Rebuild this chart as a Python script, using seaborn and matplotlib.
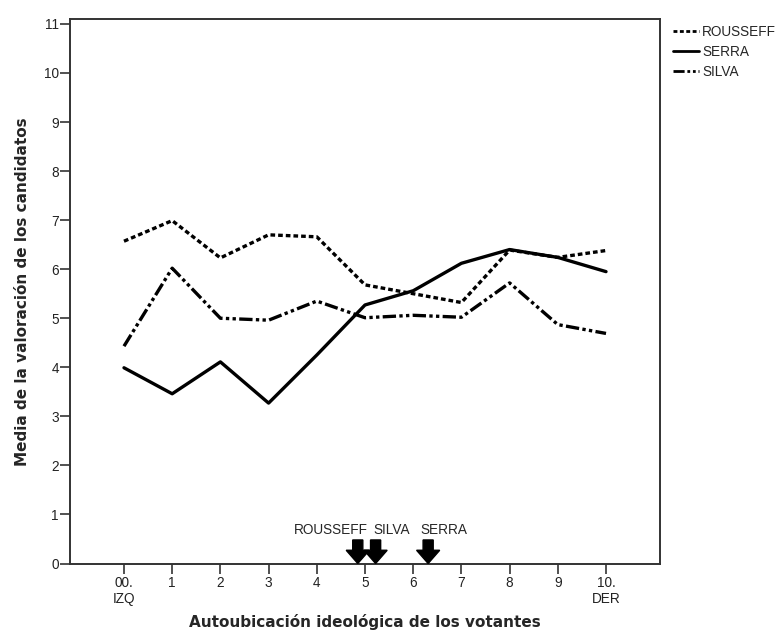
import numpy as np
import pandas as pd
import matplotlib
matplotlib.use("Agg")
import matplotlib.pyplot as plt
import seaborn as sns

# autoubicación 0..10 y media de valoración por candidato
escala = [0, 1, 2, 3, 4, 5, 6, 7, 8, 9, 10]
etiquetas_x = ["00.\nIZQ", "1", "2", "3", "4", "5", "6", "7", "8", "9", "10.\nDER"]
rousseff = [6.57, 6.99, 6.23, 6.70, 6.66, 5.68, 5.50, 5.32, 6.39, 6.24, 6.38]
serra = [3.99, 3.46, 4.11, 3.27, 4.25, 5.27, 5.56, 6.12, 6.40, 6.24, 5.95]
silva = [4.43, 6.02, 5.00, 4.96, 5.35, 5.01, 5.06, 5.02, 5.72, 4.87, 4.69]

candidatos = ["ROUSSEFF", "SERRA", "SILVA"]
# ubicación media de cada candidato (flechas)
flechas_x = [4.85, 5.22, 6.31]

df = pd.DataFrame({
    "escala": escala * 3,
    "media": rousseff + serra + silva,
    "candidato": np.repeat(candidatos, len(escala)),
})

sns.set_style("white")
plt.rcParams["font.family"] = ["Liberation Sans", "DejaVu Sans"]

fig = plt.figure(figsize=(7.76, 6.39), dpi=100)
ax = fig.add_axes([70 / 776, 1 - 563.5 / 639, 590 / 776, 544.5 / 639])

estilos = {"ROUSSEFF": (1.4, 0.9), "SERRA": "", "SILVA": (4, 1, 1, 1, 1, 1)}
sns.lineplot(data=df, x="escala", y="media", style="candidato",
             style_order=candidatos, dashes=estilos, color="black",
             linewidth=2.4, ax=ax)

handles, labels = ax.get_legend_handles_labels()
ax.get_legend().remove()
for h in handles:
    h.set_linewidth(2)
fig.legend(handles, labels, loc="upper left", bbox_to_anchor=(673 / 776, 1 - 25 / 639),
           frameon=False, fontsize=9.8, handlelength=1.9, handletextpad=0.25,
           labelspacing=0.45, borderpad=0, borderaxespad=0)

ax.set_xlim(-1.12, 11.12)
ax.set_ylim(0, 11.1)
ax.set_xticks(escala)
ax.set_xticklabels(etiquetas_x, fontsize=9.8, color="#222222", linespacing=1.15)
ax.set_yticks(range(0, 12))
ax.tick_params(axis="y", labelsize=9.8, labelcolor="#222222")
ax.tick_params(axis="both", direction="out", length=7, width=1.2, color="#333333",
               left=True, bottom=True)
ax.tick_params(axis="y", pad=1)
ax.tick_params(axis="x", pad=2)
for s in ax.spines.values():
    s.set_color("#333333")
    s.set_linewidth(1.4)

ax.set_xlabel("Autoubicación ideológica de los votantes", family="DejaVu Sans",
              fontweight="bold", fontsize=11, labelpad=6)
ax.set_ylabel("Media de la valoración de los candidatos", family="DejaVu Sans",
              fontweight="bold", fontsize=11, labelpad=10)

# flechas con la ubicación media de los candidatos
for x in flechas_x:
    ax.arrow(x, 0.48, 0, -0.48, width=0.21, head_width=0.48, head_length=0.27,
             length_includes_head=True, color="black", clip_on=False, zorder=5)

ax.text(flechas_x[0] + 0.21, 0.68, "ROUSSEFF", ha="right", va="center", fontsize=9.8)
ax.text(flechas_x[1] - 0.05, 0.68, "SILVA", ha="left", va="center", fontsize=9.8)
ax.text(flechas_x[2] - 0.17, 0.68, "SERRA", ha="left", va="center", fontsize=9.8)

fig.savefig("out.png", dpi=100)
